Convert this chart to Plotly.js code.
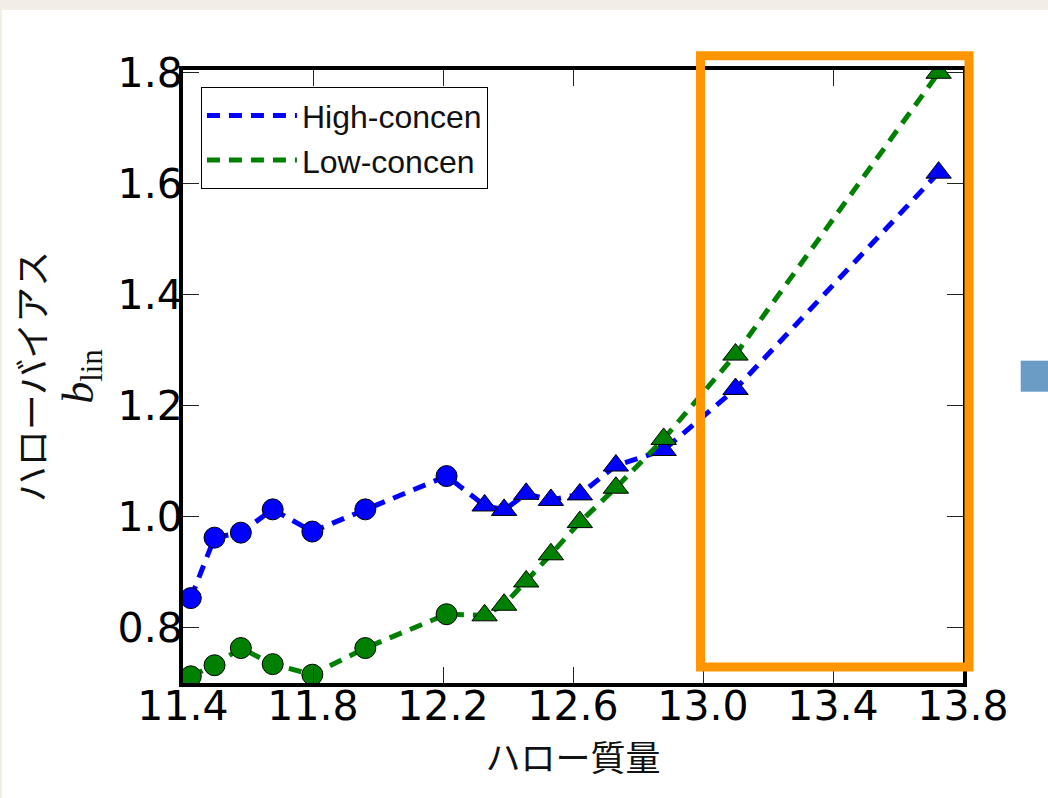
<!DOCTYPE html>
<html>
<head>
<meta charset="utf-8">
<script src="https://cdn.plot.ly/plotly-3.0.1.min.js"></script>
<style>
  html, body { margin: 0; padding: 0; background: #f2eee6; }
  #chart { width: 1048px; height: 798px; }
</style>
</head>
<body>
<div id="chart"></div>
<script>
// Halo mass (log10) bin centres
const haloMass = [11.424, 11.497, 11.578, 11.676, 11.798, 11.961, 12.211, 12.328, 12.388, 12.456, 12.532, 12.621, 12.732, 12.879, 13.100, 13.725];
// Linear halo bias, high-concentration halos
const biasHigh = [0.853, 0.962, 0.971, 1.013, 0.973, 1.013, 1.073, 1.020, 1.012, 1.041, 1.030, 1.040, 1.092, 1.120, 1.230, 1.620];
// Linear halo bias, low-concentration halos
const biasLow = [0.712, 0.732, 0.763, 0.734, 0.715, 0.763, 0.824, 0.822, 0.841, 0.883, 0.932, 0.990, 1.052, 1.140, 1.292, 1.800];
// Marker symbol per point
const markerSymbols = ['circle','circle','circle','circle','circle','circle','circle',
  'triangle-up','triangle-up','triangle-up','triangle-up','triangle-up','triangle-up','triangle-up','triangle-up','triangle-up'];
const seriesNames = ['High-concen', 'Low-concen'];
const xTickVals = [11.4, 11.8, 12.2, 12.6, 13.0, 13.4, 13.8];
const xTickText = ['11.4', '11.8', '12.2', '12.6', '13.0', '13.4', '13.8'];
const yTickVals = [0.8, 1.0, 1.2, 1.4, 1.6, 1.8];
const yTickText = ['0.8', '1.0', '1.2', '1.4', '1.6', '1.8'];

const BLUE = '#0000ff';
const GREEN = '#008000';
const markerSizes = markerSymbols.map(s => s === 'circle' ? 21 : 22);

function lineTrace(y, name, color) {
  return {
    x: haloMass, y: y, name: name, type: 'scatter', mode: 'lines',
    line: { color: color, width: 5, dash: '13px,9px' },
    hoverinfo: 'skip'
  };
}
function markerTrace(y, name, color) {
  return {
    x: haloMass, y: y, name: name, type: 'scatter', mode: 'markers',
    showlegend: false,
    marker: { color: color, symbol: markerSymbols, size: markerSizes, opacity: 1,
              line: { color: '#000000', width: 1 } }
  };
}

const data = [
  lineTrace(biasHigh, seriesNames[0], BLUE),
  markerTrace(biasHigh, seriesNames[0], BLUE),
  lineTrace(biasLow, seriesNames[1], GREEN),
  markerTrace(biasLow, seriesNames[1], GREEN)
];

const tickFont = { family: 'DejaVu Sans', size: 41, color: '#000000' };

const layout = {
  width: 1048, height: 798,
  margin: { l: 183, r: 85, t: 70, b: 115, pad: 0 },
  paper_bgcolor: '#f2eee6',
  plot_bgcolor: '#ffffff',
  showlegend: true,
  legend: {
    x: 0.023, y: 0.972, xanchor: 'left', yanchor: 'top',
    bgcolor: '#ffffff', bordercolor: '#000000', borderwidth: 1,
    font: { family: 'Liberation Sans', size: 32, color: '#111111' },
    itemwidth: 90
  },
  xaxis: {
    range: [11.4, 13.8],
    tickmode: 'array', tickvals: xTickVals, ticktext: xTickText,
    ticks: 'inside', ticklen: 16, tickwidth: 1, tickcolor: '#222222',
    showline: true, linecolor: '#000000', linewidth: 4, mirror: 'allticks',
    showgrid: false, zeroline: false,
    tickfont: tickFont, ticklabelstandoff: -16,
    title: { text: 'ハロー質量', font: { family: 'Noto Sans CJK JP', size: 35, color: '#111111' }, standoff: 10 }
  },
  yaxis: {
    range: [0.70, 1.805],
    tickmode: 'array', tickvals: yTickVals, ticktext: yTickText,
    ticks: 'inside', ticklen: 16, tickwidth: 1, tickcolor: '#222222',
    showline: true, linecolor: '#000000', linewidth: 4, mirror: 'allticks',
    showgrid: false, zeroline: false,
    tickfont: tickFont, ticklabelstandoff: -12,
    title: {
      text: 'ハローバイアス<br><span style="font-family:Liberation Serif;font-size:44px"><i>b</i><sub>lin</sub></span>',
      font: { family: 'Noto Sans CJK JP', size: 36, color: '#111111' },
      standoff: 14
    }
  },
  shapes: [
    // white page panel
    { type: 'rect', xref: 'paper', yref: 'paper', layer: 'below',
      x0: -0.232, x1: 1.12, y0: -0.2, y1: 1.0979,
      fillcolor: '#ffffff', line: { width: 0 } },
    // orange highlight frame
    { type: 'rect', xref: 'paper', yref: 'paper', layer: 'above',
      x0: 0.6635, x1: 1.0077, y0: 0.0261, y1: 1.0233,
      fillcolor: 'rgba(0,0,0,0)', line: { color: '#ff9500', width: 9 } },
    // small blue patch at right edge
    { type: 'rect', xref: 'paper', yref: 'paper', layer: 'above',
      x0: 1.074, x1: 1.11, y0: 0.4752, y1: 0.5258,
      fillcolor: '#6b9cc6', line: { width: 0 } }
  ]
};

Plotly.newPlot('chart', data, layout, { displayModeBar: false, staticPlot: true });
</script>
</body>
</html>
